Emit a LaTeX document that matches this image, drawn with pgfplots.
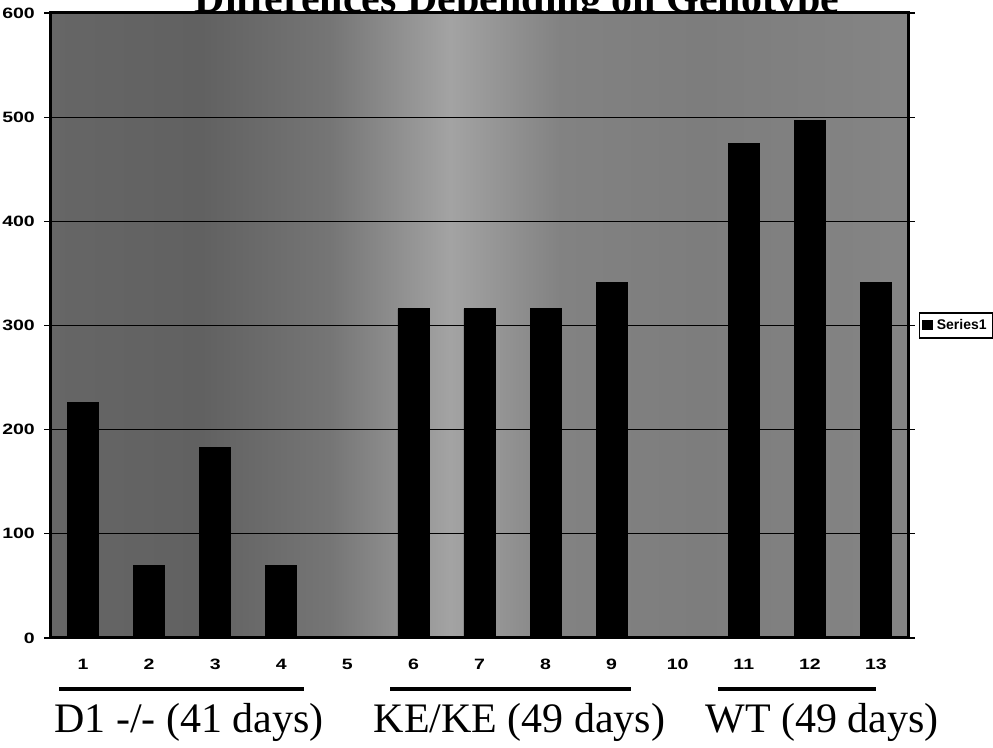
\documentclass[border=0pt]{standalone}
\usepackage{pgfplots}
\pgfplotsset{compat=1.18}
\usepackage{fontspec}
\setmainfont{Liberation Serif}
\newfontfamily\arial{Liberation Sans}

% halftone-ish background: darker left, light band left of centre
\pgfdeclarehorizontalshading{bg}{100bp}{%
  rgb(0bp)=(0.40,0.40,0.40);
  rgb(25bp)=(0.40,0.40,0.40);
  rgb(33.75bp)=(0.38,0.38,0.38);
  rgb(41.3bp)=(0.46,0.46,0.46);
  rgb(48.3bp)=(0.64,0.64,0.64);
  rgb(54.7bp)=(0.51,0.51,0.51);
  rgb(62.9bp)=(0.49,0.49,0.49);
  rgb(75bp)=(0.52,0.52,0.52);
  rgb(100bp)=(0.52,0.52,0.52)}

\pgfplotstableread{
x  y
1  226
2  70
3  183
4  70
6  316
7  316
8  316
9  341
11 475
12 497
13 341
}\bars

\begin{document}
\begin{tikzpicture}
  % title, cut off by the top of the page as in the scan
  \begin{scope}[x=0.5pt, y=-0.5pt, yshift=374pt]
    \node[anchor=base, font=\bfseries\fontsize{21}{24}\selectfont, inner sep=0pt]
      at (517,13) {Differences Depending on Genotype};
  \end{scope}

  \begin{axis}[
    at={(25pt,55pt)}, anchor=south west,
    scale only axis, width=429.5pt, height=312.5pt,
    xmin=0.5, xmax=13.5, ymin=0, ymax=600,
    xtick={1,...,13}, ytick={0,100,...,600},
    axis background/.style={shading=bg},
    axis line style={line width=1.5pt},
    ymajorgrids, major grid style={black, line width=0.5pt},
    tick align=outside, major tick length=3pt,
    xtick style={draw=none}, ytick style={black, line width=0.6pt},
    ticklabel style={font=\arial\bfseries\fontsize{7.5}{8}\selectfont, xscale=1.3},
    /pgf/number format/assume math mode=true,
    xticklabel style={yshift=-4pt},
    legend style={at={(1,0.5)}, anchor=west, xshift=5pt, draw=black,
      line width=0.6pt, inner sep=1pt,
      font=\arial\bfseries\fontsize{7}{8}\selectfont},
    legend image code/.code={\fill[black] (0pt,-2pt) rectangle (5pt,2.5pt);},
  ]
    \addplot[ybar, bar width=15.5pt, fill=black, draw=black] table[x=x, y=y] {\bars};
    \addlegendentry{Series1}
  \end{axis}

  % group underlines and labels (coordinates in pixels from top-left)
  \begin{scope}[x=0.5pt, y=-0.5pt, yshift=374pt]
    \draw[line width=2.3pt] (59,689) -- (304,689);
    \draw[line width=2.3pt] (390,689) -- (631,689);
    \draw[line width=1.6pt] (718,689) -- (876,689);
    \begin{scope}[every node/.style={anchor=base, inner sep=0pt,
        font=\fontsize{21}{24}\selectfont}]
      \node at (189,733) {D1 -/- (41 days)};
      \node at (519.5,733) {KE/KE (49 days)};
      \node at (822,733) {WT (49 days)};
    \end{scope}
  \end{scope}

  \pgfresetboundingbox
  \useasboundingbox (0,0) rectangle (496.5pt,374pt);
\end{tikzpicture}
\end{document}
